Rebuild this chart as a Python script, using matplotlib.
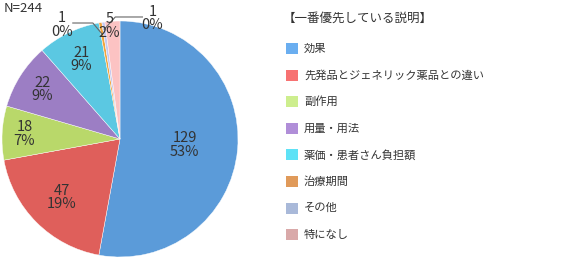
import numpy as np
import matplotlib
matplotlib.use("Agg")
import matplotlib.pyplot as plt
from matplotlib.patches import Rectangle

plt.rcParams['font.family'] = ['Noto Sans CJK JP', 'DejaVu Sans']

title = "【一番優先している説明】"
n_label = "N=244"
categories = ["効果", "先発品とジェネリック薬品との違い", "副作用", "用量・用法",
              "薬価・患者さん負担額", "治療期間", "その他", "特になし"]
values = [129, 47, 18, 22, 21, 1, 1, 5]
pie_colors = ["#5b9bd9", "#df5f5b", "#b9d86a", "#9c7ec4", "#5bc8e2", "#f2a43c", "#c6c9f0", "#fcc3c3"]
legend_colors = ["#6aaef0", "#f77272", "#cdee8e", "#b08ed8", "#5ee2f6", "#e09a5a", "#a9b9d9", "#d9a9a9"]

W, H = 570, 260
fig = plt.figure(figsize=(W / 100, H / 100), dpi=100)
cx, cy, R = 120, 139, 118
ax = fig.add_axes([0, 0, 1, 1])

wedges, _ = ax.pie(values, colors=pie_colors, startangle=90, counterclock=False,
                   radius=1, center=(0, 0), frame=True,
                   wedgeprops=dict(edgecolor='white', linewidth=0.3))
ax.set_xlim(-cx / R, (W - cx) / R)
ax.set_ylim((cy - H) / R, cy / R)
ax.axis('off')

total = sum(values)
label_r = [0.55, 0.70, 0.81, 0.78, 0.75, None, None, 0.96]
label_shift = [0, 0, 0, 0, 0, 0, 0, -0.03]
txtc = "#333333"
for w, v, r, s in zip(wedges, values, label_r, label_shift):
    pct = round(v / total * 100)
    mid = np.deg2rad((w.theta1 + w.theta2) / 2)
    if r is not None:
        ax.text(r * np.cos(mid) + s, r * np.sin(mid), f"{v}\n{pct}%", ha='center', va='center',
                fontsize=10.5, color=txtc, linespacing=0.95)

# leader labels for the tiny slices
small = [(5, (-0.49, 0.965), (-0.40, 0.983), (-0.23, 0.983), 0.90),
         (6, (0.275, 1.02), (0.19, 1.034), (-0.04, 1.034), 0.94)]
for idx, tpos, p1, p2, rr in small:
    w = wedges[idx]
    mid = np.deg2rad((w.theta1 + w.theta2) / 2)
    end = (rr * np.cos(mid), rr * np.sin(mid))
    ax.plot([p1[0], p2[0], end[0]], [p1[1], p2[1], end[1]], color='#666666', lw=0.8)
    pct = round(values[idx] / total * 100)
    ax.text(tpos[0], tpos[1], f"{values[idx]}\n{pct}%", ha='center', va='center',
            fontsize=10.5, color=txtc, linespacing=0.95)

fig.text(4 / W, 1 - 8 / H, n_label, ha='left', va='center', fontsize=9.5, color=txtc)

# legend
fig.text(283 / W, 1 - 18 / H, title, ha='left', va='center', fontsize=9.0, color=txtc)
for i, (cat, col) in enumerate(zip(categories, legend_colors)):
    yc = 48.5 + 26.6 * i
    fig.patches.append(Rectangle((286 / W, 1 - (yc + 5.5) / H), 12 / W, 11 / H,
                                 transform=fig.transFigure, facecolor=col, edgecolor='none'))
    fig.text(304 / W, 1 - yc / H, cat, ha='left', va='center', fontsize=8.1, color=txtc)

fig.savefig("out.png", dpi=100)
